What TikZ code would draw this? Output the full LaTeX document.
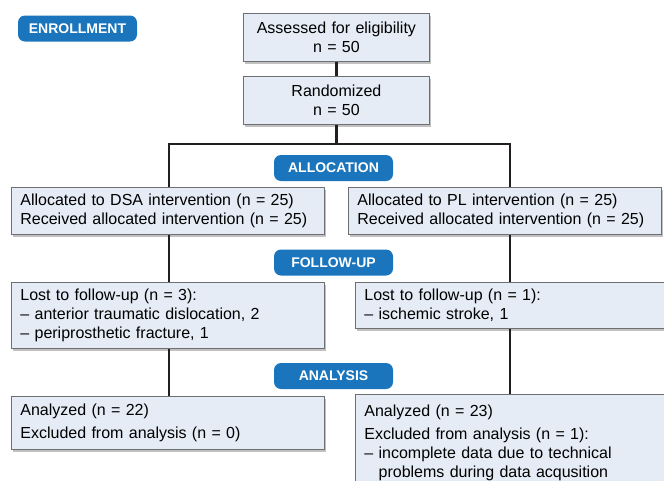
\documentclass[tikz,border=0pt]{standalone}
\usepackage{fontspec}
\setmainfont{Liberation Sans}
\usepackage{xcolor}
\definecolor{flowBlue}{HTML}{1A75BC}
\definecolor{flowFill}{HTML}{E5ECF6}
\definecolor{flowBorder}{HTML}{6E6F72}
\definecolor{flowLine}{HTML}{231F20}
\usepackage{tikz}
\usetikzlibrary{positioning,shadows}
\tikzset{
    flowbox/.style={
        draw=flowBorder,
        fill=flowFill,
        rectangle,
        anchor=north west,
        align=left,
        line width=0.8pt,
        inner xsep=9pt,
        inner ysep=0pt,
        drop shadow={shadow xshift=2pt, shadow yshift=-3pt, opacity=0.35, fill=black!70},
        font=\fontsize{16}{19}\selectfont
    },
    stagetag/.style={
        fill=flowBlue,
        text=white,
        rectangle,
        rounded corners=7pt,
        minimum width=119pt,
        minimum height=26pt,
        inner sep=0pt,
        font=\fontsize{14}{14}\selectfont\bfseries
    },
    conn/.style={
        draw=flowLine,
        line width=2.6pt
    }
}

\begin{document}
\begin{tikzpicture}[x=1pt,y=-1pt]
    \useasboundingbox (0,0) rectangle (664,480);
    \clip (0,0) rectangle (664,480);

    % enrollment
    \node[flowbox, align=center, text width=168pt, minimum height=48pt] (assess) at (243,13)
        {Assessed for eligibility\\n = 50};
    \node[flowbox, align=center, text width=168pt, minimum height=48pt] (rand) at (243,76)
        {Randomized\\n = 50};

    % allocation
    \node[flowbox, text width=295pt, minimum height=47pt] (allocL) at (11,187)
        {Allocated to DSA intervention (n = 25)\\Received allocated intervention (n = 25)};
    \node[flowbox, text width=295pt, minimum height=47pt] (allocR) at (348,187)
        {Allocated to PL intervention (n = 25)\\Received allocated intervention (n = 25)};

    % follow-up
    \node[flowbox, text width=295pt, minimum height=66pt] (lostL) at (11,282)
        {Lost to follow-up (n = 3):\\-- anterior traumatic dislocation, 2\\-- periprosthetic fracture, 1};
    \node[flowbox, text width=310pt, minimum height=46pt] (lostR) at (355,282)
        {Lost to follow-up (n = 1):\\-- ischemic stroke, 1};

    % analysis
    \node[flowbox, text width=295pt, minimum height=53pt] (anaL) at (11,396)
        {Analyzed (n = 22)\\[4pt]Excluded from analysis (n = 0)};
    \node[flowbox, text width=310pt, inner ysep=10pt] (anaR) at (355,394)
        {Analyzed (n = 23)\\[4pt]Excluded from analysis (n = 1):\\-- incomplete data due to technical\\\phantom{-- }problems during data acqusition};

    % connectors
    \coordinate (lcol) at (169,0);
    \coordinate (rcol) at (510,0);
    \path (rand.south) ++(0,19) coordinate (split);
    \draw[conn] (assess) -- (rand);
    \draw[conn] (rand) -- (split);
    \draw[conn] (allocL.north -| lcol) |- (split) -| (allocR.north -| rcol);
    \draw[conn] (allocL.south -| lcol) -- (lostL.north -| lcol);
    \draw[conn] (allocR.south -| rcol) -- (lostR.north -| rcol);
    \draw[conn] (lostL.south -| lcol) -- (anaL.north -| lcol);
    \draw[conn] (lostR.south -| rcol) -- (anaR.north -| rcol);

    % stage tags
    \node[stagetag] (enroll) at (77.5,28.5) {ENROLLMENT};
    \node[stagetag] (alloc) at (333.5,168) {ALLOCATION};
    \node[stagetag] (follow) at (333.5,262.5) {FOLLOW-UP};
    \node[stagetag] (analysis) at (333.5,376) {ANALYSIS};
\end{tikzpicture}
\end{document}
